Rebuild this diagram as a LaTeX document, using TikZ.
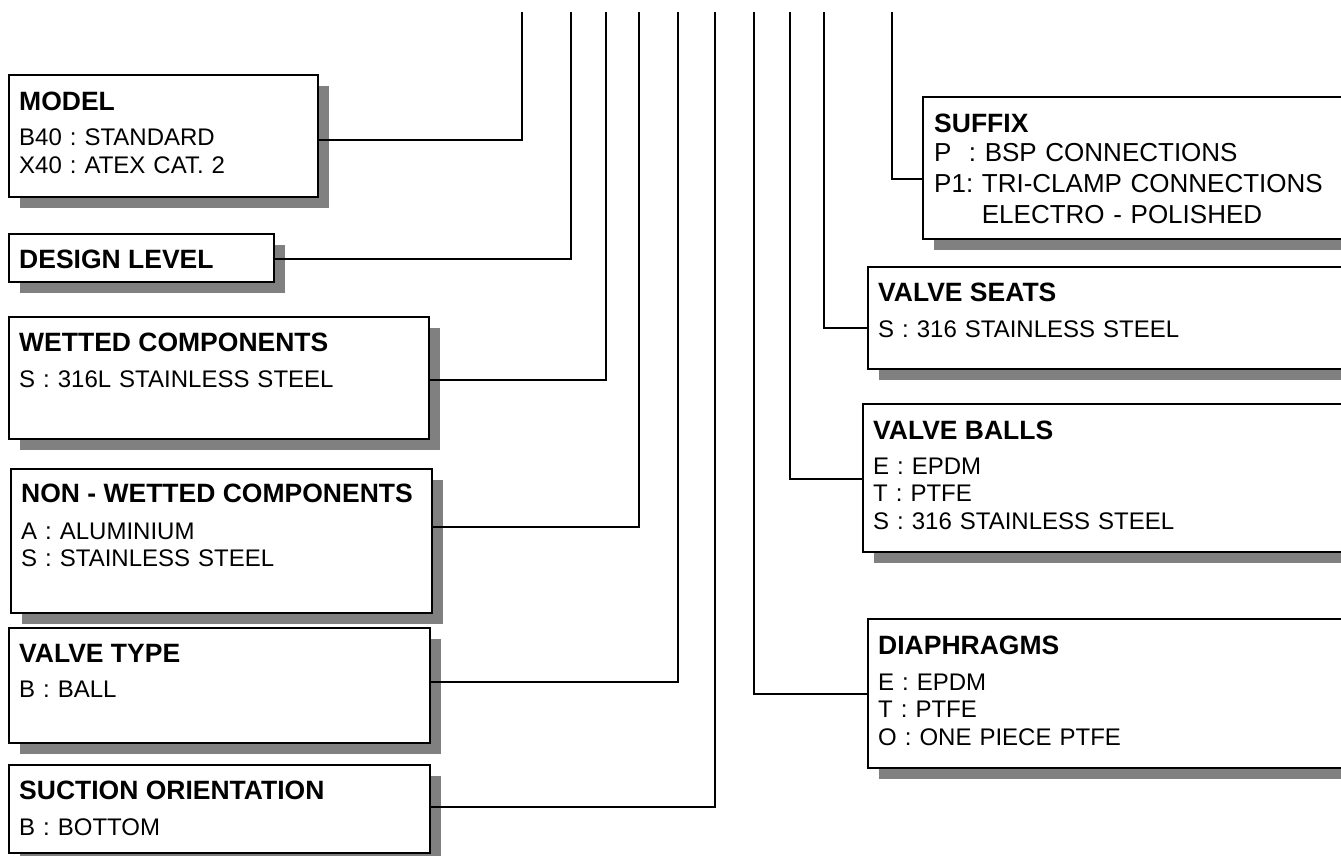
\documentclass[tikz,border=0pt]{standalone}
\usepackage{fontspec}
\setmainfont{Liberation Sans}
\usetikzlibrary{shadows}
\definecolor{shadowgray}{HTML}{808080}

\tikzset{
  codebox/.style={draw, fill=white, line width=2.8pt, inner sep=0pt,
    drop shadow={shadow xshift=11pt, shadow yshift=-11pt, opacity=1, fill=shadowgray}},
  heading/.style={anchor=base west, inner sep=0pt,
    font=\fontsize{26.5}{30}\selectfont\bfseries},
  entries/.style={anchor=base west, inner sep=0pt, text width=14cm, align=left,
    font=\frenchspacing\fontsize{24}{27.5}\selectfont},
  wire/.style={line width=2pt},
}

\begin{document}
\begin{tikzpicture}[x=1pt, y=-1pt, line cap=butt]
  \useasboundingbox (0,0) rectangle (1341,856);
  \clip (0,0) rectangle (1341,856);
  % boxes: name / left / top / right / bottom
  \foreach \b/\l/\t/\r/\d in {model/9/75/318/197, design/9/234/274/282,
      wetted/9/317/429/439, nonwet/11/469/432/613, vtype/9/628/430/743,
      suction/9/765/430/853, suffix/923/97/1380/239, seats/868/267/1380/369,
      balls/863/404/1380/552, diaph/868/619/1380/768} {
    \node[codebox, minimum width={(\r-\l)*1pt}, minimum height={(\d-\t)*1pt}]
      (\b) at ({(\l+\r)/2},{(\t+\d)/2}) {};
  }
  % left column
  \node[heading] (model-t) at (19,111) {MODEL};
  \node[entries] (model-e) at (19,146) {B40 : STANDARD\\X40 : ATEX CAT. 2};
  \node[heading] (design-t) at (19,268) {DESIGN LEVEL};
  \node[heading] (wetted-t) at (19,351) {WETTED COMPONENTS};
  \node[entries] (wetted-e) at (19,387) {S : 316L STAINLESS STEEL};
  \node[heading] (nonwet-t) at (21,502) {NON - WETTED COMPONENTS};
  \node[entries] (nonwet-e) at (21,539) {A : ALUMINIUM\\S : STAINLESS STEEL};
  \node[heading] (vtype-t) at (19,662) {VALVE TYPE};
  \node[entries] (vtype-e) at (19,697) {B : BALL};
  \node[heading] (suction-t) at (19,799) {SUCTION ORIENTATION};
  \node[entries] (suction-e) at (19,835) {B : BOTTOM};
  % right column
  \node[heading] (suffix-t) at (934,132) {SUFFIX};
  \node[entries, font=\frenchspacing\fontsize{26}{31}\selectfont] (suffix-e) at (934,161)
    {P\ \ : BSP CONNECTIONS\\P1: TRI-CLAMP CONNECTIONS\\\phantom{P1: }ELECTRO - POLISHED};
  \node[heading] (seats-t) at (878,301) {VALVE SEATS};
  \node[entries] (seats-e) at (878,337) {S : 316 STAINLESS STEEL};
  \node[heading] (balls-t) at (873,439) {VALVE BALLS};
  \node[entries] (balls-e) at (873,474) {E : EPDM\\T : PTFE\\S : 316 STAINLESS STEEL};
  \node[heading] (diaph-t) at (878,654) {DIAPHRAGMS};
  \node[entries] (diaph-e) at (878,690) {E : EPDM\\T : PTFE\\O : ONE PIECE PTFE};
  % code lines
  \foreach \b/\s/\x/\y in {model/east/522/140, design/east/571/259,
      wetted/east/606/380, nonwet/east/639/527, vtype/east/678/682,
      suction/east/715/807, diaph/west/754/694, balls/west/790/479,
      seats/west/824/328, suffix/west/892/179} {
    \coordinate (top-\b) at (\x,12);
    \draw[wire] (top-\b) |- (\b.\s |- 0,\y);
  }
\end{tikzpicture}
\end{document}
